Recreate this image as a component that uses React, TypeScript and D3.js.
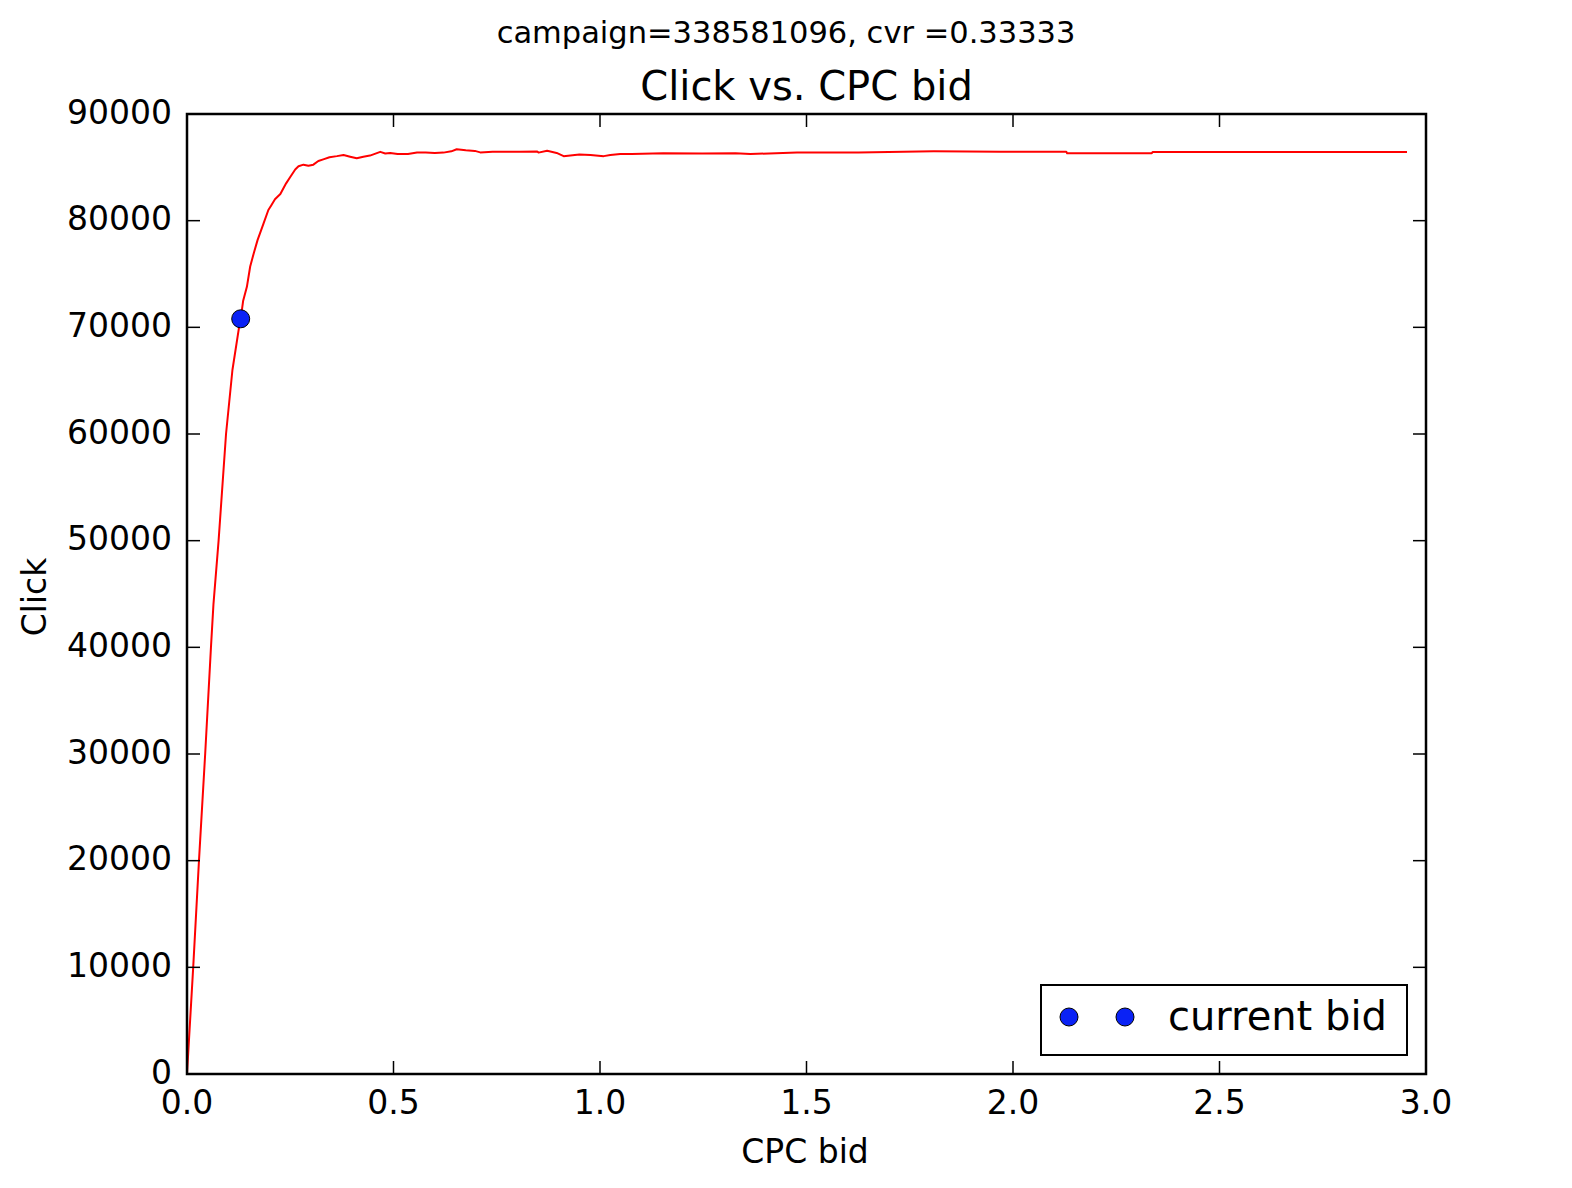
import React from "react";
import * as d3 from "d3";

const bidX = [
  0, 0.015, 0.029, 0.044, 0.058, 0.064, 0.0765, 0.0945, 0.11, 0.126, 0.13, 0.136, 0.145, 0.153, 0.162,
  0.171, 0.185, 0.197, 0.205, 0.213, 0.226, 0.24, 0.25, 0.262, 0.27, 0.282, 0.294, 0.306, 0.318,
  0.33, 0.345, 0.363, 0.379, 0.395, 0.411, 0.427, 0.443, 0.468, 0.48, 0.492, 0.51, 0.535, 0.557,
  0.578, 0.6, 0.621, 0.64, 0.653, 0.675, 0.697, 0.71, 0.74, 0.775, 0.805, 0.848, 0.851, 0.872,
  0.895, 0.912, 0.95, 0.977, 1.009, 1.025, 1.049, 1.077, 1.153, 1.247, 1.328, 1.364, 1.477, 1.626,
  1.808, 1.97, 2.129, 2.131, 2.336, 2.338, 2.954,
];
const clicks = [
  0, 10000, 20000, 30000, 40000, 44000, 50000, 60000, 66000, 70000, 70800, 72500, 73800, 75700,
  77000, 78200, 79700, 81000, 81500, 82000, 82500, 83500, 84100, 84800, 85100, 85250, 85150, 85250,
  85600, 85750, 85950, 86050, 86160, 86000, 85850, 86000, 86100, 86450, 86300, 86350, 86250, 86250,
  86380, 86400, 86350, 86380, 86500, 86690, 86600, 86540, 86400, 86450, 86470, 86470, 86480, 86380,
  86550, 86350, 86050, 86200, 86150, 86050, 86160, 86250, 86250, 86320, 86300, 86320, 86250, 86380,
  86400, 86500, 86470, 86470, 86320, 86320, 86440, 86440,
];
const currentBid = [{ bid: 0.13, click: 70800 }];
const xTicks = [0, 0.5, 1.0, 1.5, 2.0, 2.5, 3.0];
const yTicks = [0, 10000, 20000, 30000, 40000, 50000, 60000, 70000, 80000, 90000];
const suptitle = "campaign=338581096, cvr =0.33333";
const title = "Click vs. CPC bid";
const xLabel = "CPC bid";
const yLabel = "Click";
const legendLabel = "current bid";

const W = 1572;
const H = 1188;
const L = 187;
const R = 1426;
const T = 114;
const B = 1074;
const FONT = "'DejaVu Sans', sans-serif";

export default function App() {
  const x = d3.scaleLinear().domain([0, 3]).range([L, R]);
  const y = d3.scaleLinear().domain([0, 90000]).range([B, T]);
  const pts = bidX.map((b, i) => [b, clicks[i]] as [number, number]);
  const line = d3
    .line<[number, number]>()
    .x((d) => x(d[0]))
    .y((d) => y(d[1]));
  const tickLen = 13;
  const blue = "#0a22f5";

  return (
    <svg
      width={W}
      height={H}
      style={{ position: "absolute", left: 0, top: 0, background: "#fff" }}
      fontFamily={FONT}
    >
      <rect x={0} y={0} width={W} height={H} fill="#fff" />
      <text x={W / 2} y={43} fontSize={30.5} textAnchor="middle" fill="#000">
        {suptitle}
      </text>
      <text x={(L + R) / 2} y={100} fontSize={40} textAnchor="middle" fill="#000">
        {title}
      </text>

      <clipPath id="plotclip">
        <rect x={L} y={T} width={R - L} height={B - T} />
      </clipPath>
      <path
        d={line(pts) || ""}
        fill="none"
        stroke="#ff0000"
        strokeWidth={2}
        strokeLinejoin="round"
        clipPath="url(#plotclip)"
      />
      {currentBid.map((p, i) => (
        <circle key={i} cx={x(p.bid)} cy={y(p.click)} r={9} fill={blue} stroke="#000" strokeWidth={1} />
      ))}

      {xTicks.map((t) => (
        <g key={"xt" + t}>
          <line x1={x(t)} x2={x(t)} y1={B} y2={B - tickLen} stroke="#000" strokeWidth={1.5} />
          <line x1={x(t)} x2={x(t)} y1={T} y2={T + tickLen} stroke="#000" strokeWidth={1.5} />
          <text x={x(t)} y={1114} fontSize={33} textAnchor="middle" fill="#000">
            {t.toFixed(1)}
          </text>
        </g>
      ))}
      {yTicks.map((t) => (
        <g key={"yt" + t}>
          <line x1={L} x2={L + tickLen} y1={y(t)} y2={y(t)} stroke="#000" strokeWidth={1.5} />
          <line x1={R} x2={R - tickLen} y1={y(t)} y2={y(t)} stroke="#000" strokeWidth={1.5} />
          <text x={172} y={y(t) + 9.5} fontSize={33} textAnchor="end" fill="#000">
            {String(t)}
          </text>
        </g>
      ))}

      <rect x={L} y={T} width={R - L} height={B - T} fill="none" stroke="#000" strokeWidth={2.5} />

      <text x={805} y={1163} fontSize={33} textAnchor="middle" fill="#000">
        {xLabel}
      </text>
      <text
        x={0}
        y={0}
        fontSize={33}
        textAnchor="middle"
        fill="#000"
        transform={`translate(46,597) rotate(-90)`}
      >
        {yLabel}
      </text>

      <rect x={1041} y={985} width={366} height={70} fill="#fff" stroke="#000" strokeWidth={2} />
      <circle cx={1069} cy={1017} r={9} fill={blue} stroke="#000" strokeWidth={1} />
      <circle cx={1125} cy={1017} r={9} fill={blue} stroke="#000" strokeWidth={1} />
      <text x={1168} y={1030} fontSize={40} fill="#000">
        {legendLabel}
      </text>
    </svg>
  );
}
